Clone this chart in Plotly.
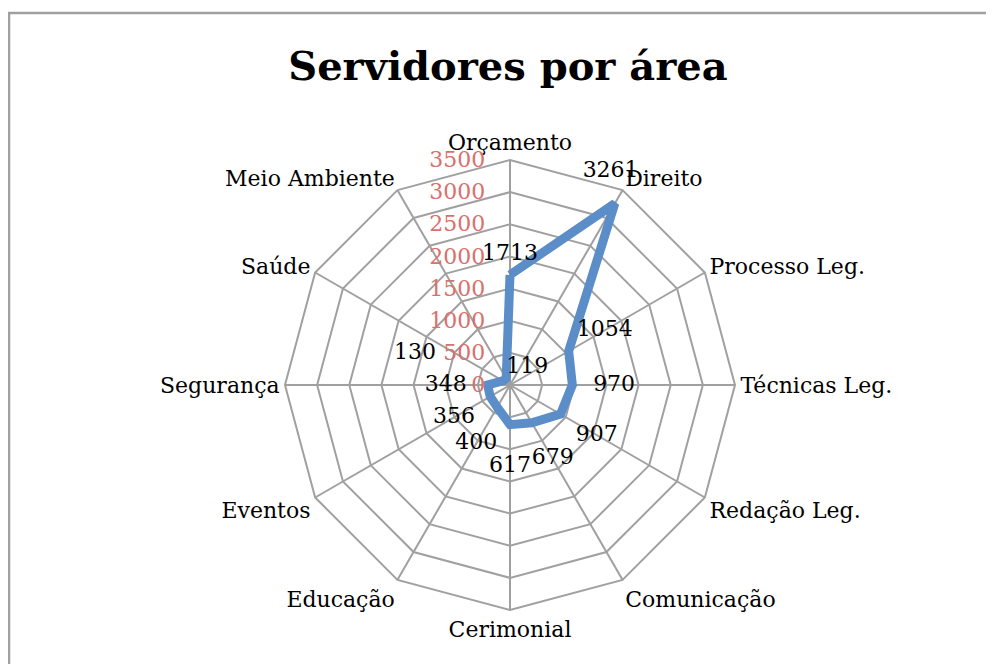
import plotly.graph_objects as go

categories = ["Orçamento", "Direito", "Processo Leg.", "Técnicas Leg.", "Redação Leg.",
              "Comunicação", "Cerimonial", "Educação", "Eventos", "Segurança",
              "Saúde", "Meio Ambiente"]
values = [1713, 3261, 1054, 970, 907, 679, 617, 400, 356, 348, 130, 119]
tick_values = [0, 500, 1000, 1500, 2000, 2500, 3000, 3500]

# label placement (style only): radial padding in axis units, text anchor, extra blank line
label_pad = [150, -130, 650, 650, 650, 650, 650, 650, 650, 650, 1200, 0]
label_positions = ["top center", "top center", "middle center", "middle center",
                   "middle center", "middle center", "middle center", "middle center",
                   "middle center", "middle center", "bottom left", "top right"]
label_lift = [False, True, False, False, False, False, False, False, False, False, False, False]

OFF = 8  # browser body margin
W, H = 994 - OFF, 664 - OFF
cx, cy, R = 510 - OFF, 385 - OFF, 225
FONT = "DejaVu Serif"
GRID = "#a0a0a0"

fig = go.Figure()
fig.add_trace(go.Scatterpolar(
    r=values + values[:1],
    theta=categories + categories[:1],
    mode="lines",
    line=dict(color="#5b8ec8", width=9),
    showlegend=False,
    hoverinfo="skip",
))
fig.add_trace(go.Scatterpolar(
    r=[v + p for v, p in zip(values, label_pad)],
    theta=categories,
    mode="text",
    text=[f"{v}<br>\u00a0" if lift else str(v) for v, lift in zip(values, label_lift)],
    textposition=label_positions,
    textfont=dict(family=FONT, size=22, color="#000000"),
    cliponaxis=False,
    showlegend=False,
    hoverinfo="skip",
))

fig.update_layout(
    width=W, height=H,
    margin=dict(l=0, r=0, t=0, b=0),
    paper_bgcolor="white",
    plot_bgcolor="white",
    title=dict(text="<b>Servidores por área</b>", x=(508 - OFF) / W, xanchor="center",
               y=1 - (66 - OFF) / H, yanchor="middle",
               font=dict(family=FONT, size=40, color="#000000")),
    polar=dict(
        domain=dict(x=[(cx - R) / W, (cx + R) / W], y=[(H - cy - R) / H, (H - cy + R) / H]),
        bgcolor="white",
        gridshape="linear",
        angularaxis=dict(
            direction="clockwise", rotation=90,
            showline=True, linecolor=GRID, linewidth=2,
            gridcolor=GRID, gridwidth=2,
            ticks="", tickfont=dict(family=FONT, size=22, color="#000000"),
        ),
        radialaxis=dict(
            range=[0, 3500], tickvals=tick_values,
            ticktext=[f"{v}\u00a0\u00a0\u00a0" for v in tick_values],
            angle=90, tickangle=90,
            side="counterclockwise",
            showline=False, gridcolor=GRID, gridwidth=2,
            ticks="", tickfont=dict(family=FONT, size=22, color="#d9706c"),
        ),
    ),
    shapes=[dict(type="rect", xref="paper", yref="paper",
                 x0=(9 - OFF) / W, x1=1.05, y0=-0.05, y1=1 - (13 - OFF) / H,
                 line=dict(color="#a0a0a0", width=2.5), layer="below")],
)

fig.write_html("out.html")
